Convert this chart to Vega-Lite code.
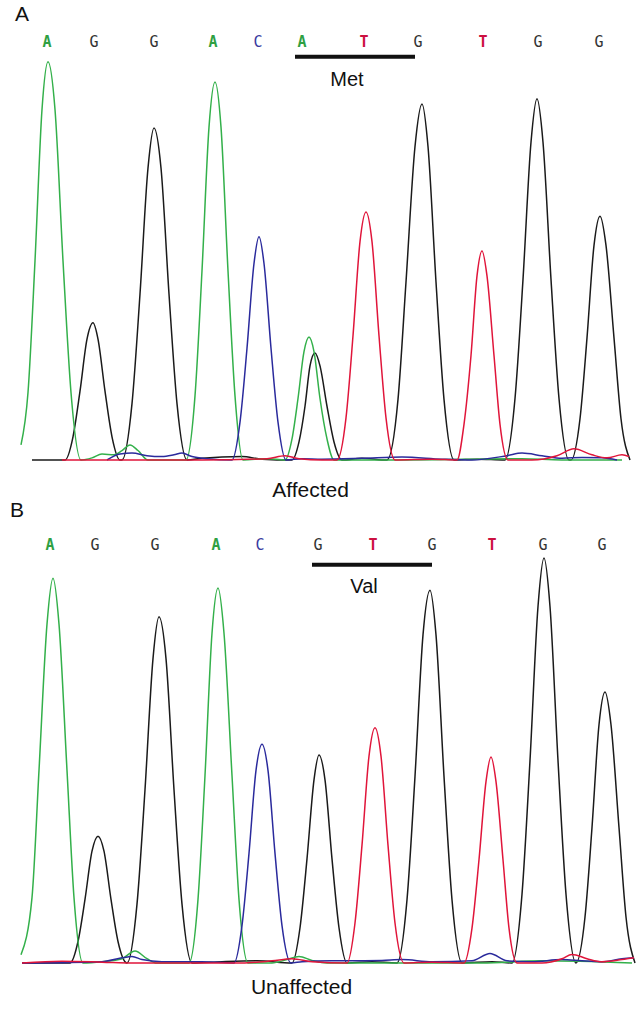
{
"$schema":"https://vega.github.io/schema/vega-lite/v6.json",
"padding":{"left":10,"right":10,"top":4,"bottom":0},
"spacing":0,
"config":{"view":{"stroke":null},"font":"Liberation Sans"},
"datasets":{
"trA":[
{"c":"G","x":30,"y":0},{"c":"G","x":63,"y":0},{"c":"G","x":71,"y":54},{"c":"G","x":78,"y":160},{"c":"G","x":85,"y":281},{"c":"G","x":91,"y":319},{"c":"G","x":96,"y":281},{"c":"G","x":103,"y":160},{"c":"G","x":110,"y":54},{"c":"G","x":118,"y":0},{"c":"G","x":120,"y":0},{"c":"G","x":130,"y":131},{"c":"G","x":138,"y":386},{"c":"G","x":146,"y":679},{"c":"G","x":152,"y":772},{"c":"G","x":159,"y":679},{"c":"G","x":167,"y":386},{"c":"G","x":175,"y":131},{"c":"G","x":185,"y":0},{"c":"G","x":200,"y":4},{"c":"G","x":240,"y":8},{"c":"G","x":260,"y":2},{"c":"G","x":290,"y":0},{"c":"G","x":297,"y":42},{"c":"G","x":303,"y":125},{"c":"G","x":308,"y":219},{"c":"G","x":313,"y":249},{"c":"G","x":318,"y":219},{"c":"G","x":325,"y":125},{"c":"G","x":332,"y":42},{"c":"G","x":340,"y":0},{"c":"G","x":360,"y":4},{"c":"G","x":385,"y":0},{"c":"G","x":396,"y":141},{"c":"G","x":404,"y":414},{"c":"G","x":413,"y":729},{"c":"G","x":420,"y":828},{"c":"G","x":426,"y":729},{"c":"G","x":434,"y":414},{"c":"G","x":442,"y":141},{"c":"G","x":452,"y":0},{"c":"G","x":475,"y":2},{"c":"G","x":503,"y":0},{"c":"G","x":513,"y":143},{"c":"G","x":521,"y":420},{"c":"G","x":529,"y":739},{"c":"G","x":535,"y":840},{"c":"G","x":541,"y":739},{"c":"G","x":549,"y":420},{"c":"G","x":557,"y":143},{"c":"G","x":567,"y":0},{"c":"G","x":569,"y":0},{"c":"G","x":578,"y":96},{"c":"G","x":585,"y":284},{"c":"G","x":592,"y":499},{"c":"G","x":598,"y":567},{"c":"G","x":604,"y":499},{"c":"G","x":612,"y":284},{"c":"G","x":619,"y":96},{"c":"G","x":628,"y":0},
{"c":"A","x":19,"y":35},{"c":"A","x":26,"y":157},{"c":"A","x":33,"y":463},{"c":"A","x":40,"y":815},{"c":"A","x":46,"y":926},{"c":"A","x":53,"y":815},{"c":"A","x":61,"y":463},{"c":"A","x":69,"y":157},{"c":"A","x":79,"y":0},{"c":"A","x":90,"y":5},{"c":"A","x":100,"y":14},{"c":"A","x":112,"y":12},{"c":"A","x":120,"y":22},{"c":"A","x":128,"y":35},{"c":"A","x":136,"y":22},{"c":"A","x":146,"y":0},{"c":"A","x":175,"y":0},{"c":"A","x":184,"y":0},{"c":"A","x":193,"y":149},{"c":"A","x":200,"y":440},{"c":"A","x":207,"y":774},{"c":"A","x":213,"y":879},{"c":"A","x":219,"y":774},{"c":"A","x":226,"y":440},{"c":"A","x":233,"y":149},{"c":"A","x":241,"y":0},{"c":"A","x":265,"y":3},{"c":"A","x":283,"y":0},{"c":"A","x":290,"y":49},{"c":"A","x":296,"y":143},{"c":"A","x":302,"y":252},{"c":"A","x":307,"y":286},{"c":"A","x":312,"y":252},{"c":"A","x":318,"y":143},{"c":"A","x":325,"y":49},{"c":"A","x":332,"y":0},{"c":"A","x":400,"y":0},{"c":"A","x":520,"y":3},{"c":"A","x":560,"y":0},{"c":"A","x":620,"y":0},
{"c":"C","x":105,"y":0},{"c":"C","x":118,"y":14},{"c":"C","x":130,"y":16},{"c":"C","x":145,"y":10},{"c":"C","x":160,"y":8},{"c":"C","x":172,"y":12},{"c":"C","x":180,"y":16},{"c":"C","x":190,"y":8},{"c":"C","x":205,"y":3},{"c":"C","x":230,"y":0},{"c":"C","x":238,"y":88},{"c":"C","x":245,"y":260},{"c":"C","x":252,"y":457},{"c":"C","x":257,"y":519},{"c":"C","x":262,"y":457},{"c":"C","x":269,"y":260},{"c":"C","x":276,"y":88},{"c":"C","x":284,"y":0},{"c":"C","x":300,"y":3},{"c":"C","x":320,"y":2},{"c":"C","x":360,"y":4},{"c":"C","x":400,"y":7},{"c":"C","x":440,"y":2},{"c":"C","x":470,"y":0},{"c":"C","x":505,"y":10},{"c":"C","x":520,"y":16},{"c":"C","x":540,"y":10},{"c":"C","x":560,"y":4},{"c":"C","x":580,"y":6},{"c":"C","x":600,"y":5},{"c":"C","x":615,"y":0},
{"c":"T","x":60,"y":0},{"c":"T","x":200,"y":0},{"c":"T","x":265,"y":3},{"c":"T","x":283,"y":10},{"c":"T","x":297,"y":3},{"c":"T","x":320,"y":0},{"c":"T","x":335,"y":0},{"c":"T","x":344,"y":98},{"c":"T","x":351,"y":289},{"c":"T","x":358,"y":508},{"c":"T","x":364,"y":577},{"c":"T","x":370,"y":508},{"c":"T","x":377,"y":289},{"c":"T","x":384,"y":98},{"c":"T","x":393,"y":0},{"c":"T","x":430,"y":2},{"c":"T","x":455,"y":0},{"c":"T","x":462,"y":83},{"c":"T","x":469,"y":243},{"c":"T","x":475,"y":428},{"c":"T","x":480,"y":486},{"c":"T","x":485,"y":428},{"c":"T","x":492,"y":243},{"c":"T","x":498,"y":83},{"c":"T","x":506,"y":0},{"c":"T","x":530,"y":0},{"c":"T","x":555,"y":10},{"c":"T","x":572,"y":26},{"c":"T","x":590,"y":12},{"c":"T","x":605,"y":5},{"c":"T","x":620,"y":12},{"c":"T","x":627,"y":8}
],
"trB":[
{"c":"G","x":20,"y":0},{"c":"G","x":68,"y":0},{"c":"G","x":76,"y":50},{"c":"G","x":83,"y":148},{"c":"G","x":90,"y":260},{"c":"G","x":96,"y":295},{"c":"G","x":102,"y":260},{"c":"G","x":109,"y":148},{"c":"G","x":116,"y":50},{"c":"G","x":125,"y":0},{"c":"G","x":135,"y":137},{"c":"G","x":143,"y":403},{"c":"G","x":151,"y":708},{"c":"G","x":157,"y":805},{"c":"G","x":164,"y":708},{"c":"G","x":172,"y":403},{"c":"G","x":180,"y":137},{"c":"G","x":190,"y":0},{"c":"G","x":220,"y":3},{"c":"G","x":255,"y":5},{"c":"G","x":290,"y":0},{"c":"G","x":298,"y":82},{"c":"G","x":305,"y":242},{"c":"G","x":312,"y":426},{"c":"G","x":317,"y":484},{"c":"G","x":323,"y":426},{"c":"G","x":330,"y":242},{"c":"G","x":337,"y":82},{"c":"G","x":345,"y":0},{"c":"G","x":370,"y":3},{"c":"G","x":395,"y":0},{"c":"G","x":405,"y":147},{"c":"G","x":413,"y":434},{"c":"G","x":421,"y":763},{"c":"G","x":428,"y":867},{"c":"G","x":434,"y":763},{"c":"G","x":442,"y":434},{"c":"G","x":450,"y":147},{"c":"G","x":460,"y":0},{"c":"G","x":490,"y":3},{"c":"G","x":510,"y":0},{"c":"G","x":520,"y":160},{"c":"G","x":528,"y":471},{"c":"G","x":536,"y":829},{"c":"G","x":542,"y":942},{"c":"G","x":548,"y":829},{"c":"G","x":556,"y":471},{"c":"G","x":564,"y":160},{"c":"G","x":574,"y":0},{"c":"G","x":583,"y":107},{"c":"G","x":590,"y":315},{"c":"G","x":597,"y":554},{"c":"G","x":603,"y":630},{"c":"G","x":609,"y":554},{"c":"G","x":617,"y":315},{"c":"G","x":624,"y":107},{"c":"G","x":633,"y":0},
{"c":"A","x":19,"y":19},{"c":"A","x":30,"y":152},{"c":"A","x":37,"y":448},{"c":"A","x":45,"y":788},{"c":"A","x":51,"y":895},{"c":"A","x":57,"y":788},{"c":"A","x":65,"y":448},{"c":"A","x":72,"y":152},{"c":"A","x":81,"y":0},{"c":"A","x":100,"y":3},{"c":"A","x":120,"y":10},{"c":"A","x":133,"y":28},{"c":"A","x":145,"y":10},{"c":"A","x":155,"y":0},{"c":"A","x":187,"y":0},{"c":"A","x":196,"y":148},{"c":"A","x":203,"y":436},{"c":"A","x":210,"y":767},{"c":"A","x":216,"y":872},{"c":"A","x":222,"y":767},{"c":"A","x":230,"y":436},{"c":"A","x":237,"y":148},{"c":"A","x":246,"y":0},{"c":"A","x":270,"y":0},{"c":"A","x":285,"y":8},{"c":"A","x":297,"y":15},{"c":"A","x":310,"y":6},{"c":"A","x":325,"y":0},{"c":"A","x":480,"y":0},{"c":"A","x":540,"y":5},{"c":"A","x":630,"y":0},
{"c":"C","x":20,"y":0},{"c":"C","x":100,"y":3},{"c":"C","x":120,"y":12},{"c":"C","x":130,"y":15},{"c":"C","x":140,"y":8},{"c":"C","x":160,"y":3},{"c":"C","x":200,"y":3},{"c":"C","x":232,"y":0},{"c":"C","x":240,"y":87},{"c":"C","x":247,"y":255},{"c":"C","x":254,"y":448},{"c":"C","x":260,"y":509},{"c":"C","x":266,"y":448},{"c":"C","x":273,"y":255},{"c":"C","x":280,"y":87},{"c":"C","x":289,"y":0},{"c":"C","x":300,"y":3},{"c":"C","x":330,"y":5},{"c":"C","x":345,"y":5},{"c":"C","x":380,"y":6},{"c":"C","x":400,"y":8},{"c":"C","x":430,"y":3},{"c":"C","x":470,"y":5},{"c":"C","x":488,"y":22},{"c":"C","x":505,"y":5},{"c":"C","x":530,"y":3},{"c":"C","x":560,"y":8},{"c":"C","x":580,"y":5},{"c":"C","x":600,"y":3},{"c":"C","x":620,"y":10},{"c":"C","x":632,"y":12},
{"c":"T","x":20,"y":0},{"c":"T","x":60,"y":4},{"c":"T","x":100,"y":2},{"c":"T","x":130,"y":0},{"c":"T","x":240,"y":0},{"c":"T","x":270,"y":5},{"c":"T","x":290,"y":10},{"c":"T","x":310,"y":3},{"c":"T","x":345,"y":0},{"c":"T","x":353,"y":93},{"c":"T","x":360,"y":274},{"c":"T","x":367,"y":481},{"c":"T","x":373,"y":547},{"c":"T","x":379,"y":481},{"c":"T","x":386,"y":274},{"c":"T","x":393,"y":93},{"c":"T","x":402,"y":0},{"c":"T","x":430,"y":2},{"c":"T","x":462,"y":0},{"c":"T","x":470,"y":81},{"c":"T","x":477,"y":240},{"c":"T","x":484,"y":422},{"c":"T","x":489,"y":479},{"c":"T","x":494,"y":422},{"c":"T","x":501,"y":240},{"c":"T","x":507,"y":81},{"c":"T","x":515,"y":0},{"c":"T","x":540,"y":0},{"c":"T","x":560,"y":10},{"c":"T","x":570,"y":20},{"c":"T","x":585,"y":10},{"c":"T","x":600,"y":3},{"c":"T","x":620,"y":8},{"c":"T","x":632,"y":12}
],
"baseA":[{"b":"A","x":45},{"b":"G","x":92},{"b":"G","x":152},{"b":"A","x":211},{"b":"C","x":256},{"b":"A","x":300},{"b":"T","x":362},{"b":"G","x":416},{"b":"T","x":481},{"b":"G","x":536},{"b":"G","x":597}],
"baseB":[{"b":"A","x":48},{"b":"G","x":93},{"b":"G","x":153},{"b":"A","x":214},{"b":"C","x":258},{"b":"G","x":316},{"b":"T","x":371},{"b":"G","x":430},{"b":"T","x":490},{"b":"G","x":541},{"b":"G","x":600}],
"codonA":[{"aa":"Met","x":293,"x2":413,"lx":345}],
"codonB":[{"aa":"Val","x":310,"x2":430,"lx":362}]
},
"vconcat":[
{
"title":{"text":"A","anchor":"start","fontSize":21,"fontWeight":"normal","font":"Liberation Sans","offset":5,"dx":3,"color":"#111"},
"width":622,"height":430,
"resolve":{"scale":{"color":"independent"}},
"layer":[
{"data":{"name":"trA"},"mark":{"type":"line","interpolate":"monotone","strokeWidth":1.5},
"encoding":{"x":{"field":"x","type":"quantitative","scale":{"domain":[10,632],"nice":false,"zero":false},"axis":{"title":"Affected","domain":false,"ticks":false,"labels":false,"grid":false,"titleFontSize":21,"titleFontWeight":"normal","titleFont":"Liberation Sans","titlePadding":19,"titleColor":"#111","titleX":298}},
"y":{"field":"y","type":"quantitative","scale":{"domain":[0,1000],"nice":false},"axis":null},
"color":{"field":"c","type":"nominal","scale":{"domain":["A","C","G","T"],"range":["#33b04a","#2a2a9c","#1a1a1a","#e0153a"]},"legend":null}}},
{"data":{"name":"baseA"},"transform":[{"filter":"datum.b === 'A' || datum.b === 'T'"}],"mark":{"type":"text","font":"DejaVu Sans Mono","fontSize":15,"fontWeight":"bold","baseline":"middle"},
"encoding":{"x":{"field":"x","type":"quantitative"},"y":{"datum":972},"text":{"field":"b"},
"color":{"field":"b","type":"nominal","scale":{"domain":["A","C","G","T"],"range":["#2fa043","#3a3aa0","#333333","#cc1040"]},"legend":null}}},
{"data":{"name":"baseA"},"transform":[{"filter":"datum.b === 'G' || datum.b === 'C'"}],"mark":{"type":"text","font":"DejaVu Sans Mono","fontSize":15,"baseline":"middle"},
"encoding":{"x":{"field":"x","type":"quantitative"},"y":{"datum":972},"text":{"field":"b"},
"color":{"field":"b","type":"nominal","scale":{"domain":["A","C","G","T"],"range":["#2fa043","#3a3aa0","#333333","#cc1040"]},"legend":null}}},
{"data":{"name":"codonA"},"mark":{"type":"rule","strokeWidth":4,"color":"#111"},
"encoding":{"x":{"field":"x","type":"quantitative"},"x2":{"field":"x2"},"y":{"datum":938}}},
{"data":{"name":"codonA"},"mark":{"type":"text","fontSize":20,"font":"Liberation Sans","baseline":"middle","color":"#111"},
"encoding":{"x":{"field":"lx","type":"quantitative"},"y":{"datum":884},"text":{"field":"aa"}}}
]
},
{
"title":{"text":"B","anchor":"start","fontSize":21,"fontWeight":"normal","font":"Liberation Sans","offset":12,"dx":-2,"color":"#111"},
"width":622,"height":430,
"resolve":{"scale":{"color":"independent"}},
"layer":[
{"data":{"name":"trB"},"mark":{"type":"line","interpolate":"monotone","strokeWidth":1.5},
"encoding":{"x":{"field":"x","type":"quantitative","scale":{"domain":[10,632],"nice":false,"zero":false},"axis":{"title":"Unaffected","domain":false,"ticks":false,"labels":false,"grid":false,"titleFontSize":21,"titleFontWeight":"normal","titleFont":"Liberation Sans","titlePadding":13,"titleColor":"#111","titleX":289}},
"y":{"field":"y","type":"quantitative","scale":{"domain":[0,1000],"nice":false},"axis":null},
"color":{"field":"c","type":"nominal","scale":{"domain":["A","C","G","T"],"range":["#33b04a","#2a2a9c","#1a1a1a","#e0153a"]},"legend":null}}},
{"data":{"name":"baseB"},"transform":[{"filter":"datum.b === 'A' || datum.b === 'T'"}],"mark":{"type":"text","font":"DejaVu Sans Mono","fontSize":15,"fontWeight":"bold","baseline":"middle"},
"encoding":{"x":{"field":"x","type":"quantitative"},"y":{"datum":972},"text":{"field":"b"},
"color":{"field":"b","type":"nominal","scale":{"domain":["A","C","G","T"],"range":["#2fa043","#3a3aa0","#333333","#cc1040"]},"legend":null}}},
{"data":{"name":"baseB"},"transform":[{"filter":"datum.b === 'G' || datum.b === 'C'"}],"mark":{"type":"text","font":"DejaVu Sans Mono","fontSize":15,"baseline":"middle"},
"encoding":{"x":{"field":"x","type":"quantitative"},"y":{"datum":972},"text":{"field":"b"},
"color":{"field":"b","type":"nominal","scale":{"domain":["A","C","G","T"],"range":["#2fa043","#3a3aa0","#333333","#cc1040"]},"legend":null}}},
{"data":{"name":"codonB"},"mark":{"type":"rule","strokeWidth":4,"color":"#111"},
"encoding":{"x":{"field":"x","type":"quantitative"},"x2":{"field":"x2"},"y":{"datum":926}}},
{"data":{"name":"codonB"},"mark":{"type":"text","fontSize":20,"font":"Liberation Sans","baseline":"middle","color":"#111"},
"encoding":{"x":{"field":"lx","type":"quantitative"},"y":{"datum":874},"text":{"field":"aa"}}}
]
}
]
}
